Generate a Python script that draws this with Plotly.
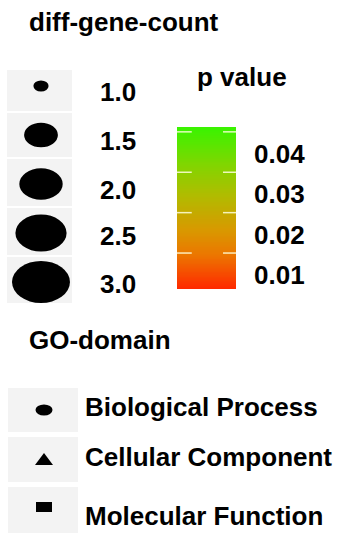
import numpy as np
import plotly.graph_objects as go

# ---- legend content ----
count_levels = [1.0, 1.5, 2.0, 2.5, 3.0]
count_labels = ["1.0", "1.5", "2.0", "2.5", "3.0"]

p_ticks = [0.04, 0.03, 0.02, 0.01]
p_tick_labels = ["0.04", "0.03", "0.02", "0.01"]
p_min, p_max = 0.0011, 0.0412

go_domains = ["Biological Process", "Cellular Component", "Molecular Function"]
go_symbols = ["circle", "triangle", "square"]

W, H = 340, 533
FONT = dict(family="Liberation Sans, Arial, sans-serif", size=26, color="black", weight="bold")
KEY_BG = "#f3f3f3"

# red -> green gradient used for the p value colourbar
p_colorscale = [
    [0.00, "#ff2800"],
    [0.21, "#ec7600"],
    [0.36, "#d99800"],
    [0.58, "#b0bc00"],
    [0.77, "#80d600"],
    [1.00, "#38f400"],
]


def size_scale(v, vmin=min(count_levels), vmax=max(count_levels), dmin=11.0, dmax=42.0):
    """Point height in px for a diff-gene-count value (power-rescaled)."""
    t = ((v - vmin) / (vmax - vmin)) ** 0.6
    return dmin + (dmax - dmin) * t


ASPECT = 1.38  # keys are drawn wider than tall

fig = go.Figure()
shapes = []
annotations = []

# ---- size legend ----
annotations.append(dict(x=27, y=22, text="diff-gene-count", xref="x", yref="y",
                        xanchor="left", yanchor="middle", showarrow=False, font=FONT))
key_rows = [(70, 111), (113, 157), (159, 206), (208, 255), (257, 303)]
for i, (v, lab) in enumerate(zip(count_levels, count_labels)):
    top, bot = key_rows[i]
    shapes.append(dict(type="rect", xref="x", yref="y", x0=7, x1=72, y0=top, y1=bot,
                       fillcolor=KEY_BG, line=dict(width=0), layer="below"))
    cy = 86 + 49 * i
    h = size_scale(v)
    w = h * ASPECT
    shapes.append(dict(type="circle", xref="x", yref="y", x0=41 - w / 2, x1=41 + w / 2,
                       y0=cy - h / 2, y1=cy + h / 2, fillcolor="black", line=dict(width=0)))
    annotations.append(dict(x=98, y=[92, 141, 190, 236, 284][i], text=lab, xref="x", yref="y",
                            xanchor="left", yanchor="middle", showarrow=False, font=FONT))

# ---- p value colourbar ----
annotations.append(dict(x=195, y=77, text="p value", xref="x", yref="y",
                        xanchor="left", yanchor="middle", showarrow=False, font=FONT))
grad = np.linspace(p_min, p_max, 200)
fig.add_trace(go.Heatmap(z=[[g] for g in grad], x=[0], y=grad, xaxis="x2", yaxis="y2",
                         colorscale=p_colorscale, zmin=p_min, zmax=p_max,
                         showscale=False, hoverinfo="skip"))
for t, lab in zip(p_ticks, p_tick_labels):
    for x0, x1 in [(0.0, 0.25), (0.78, 1.0)]:
        shapes.append(dict(type="line", xref="x2 domain", yref="y2", x0=x0, x1=x1, y0=t, y1=t,
                           line=dict(color="rgba(255,255,220,0.85)", width=1.5)))
    annotations.append(dict(x=252, y=t, text=lab, xref="x", yref="y2", yshift=-22,
                            xanchor="left", yanchor="middle", showarrow=False, font=FONT))

# ---- GO-domain legend ----
annotations.append(dict(x=27, y=340, text="GO-domain", xref="x", yref="y",
                        xanchor="left", yanchor="middle", showarrow=False, font=FONT))
go_rows = [(388, 432), (437, 482), (487, 533)]
go_key_y = [410, 459, 507]
go_label_y = [407, 457, 516]
for i, (name, sym) in enumerate(zip(go_domains, go_symbols)):
    top, bot = go_rows[i]
    shapes.append(dict(type="rect", xref="x", yref="y", x0=8, x1=78, y0=top, y1=bot,
                       fillcolor=KEY_BG, line=dict(width=0), layer="below"))
    cx, cy = 44, go_key_y[i]
    if sym == "circle":
        shapes.append(dict(type="circle", xref="x", yref="y", x0=cx - 8.5, x1=cx + 8.5,
                           y0=cy - 5.5, y1=cy + 5.5, fillcolor="black", line=dict(width=0)))
    elif sym == "triangle":
        shapes.append(dict(type="path", xref="x", yref="y",
                           path=f"M {cx - 9} {cy + 6} L {cx + 9} {cy + 6} L {cx} {cy - 6} Z",
                           fillcolor="black", line=dict(width=0)))
    else:
        shapes.append(dict(type="rect", xref="x", yref="y", x0=cx - 8, x1=cx + 8,
                           y0=cy - 5, y1=cy + 5, fillcolor="black", line=dict(width=0)))
    annotations.append(dict(x=83, y=go_label_y[i], text=name, xref="x", yref="y",
                            xanchor="left", yanchor="middle", showarrow=False, font=FONT))

bar_x0, bar_x1, bar_top, bar_bot = 177, 236, 127, 289
fig.update_layout(
    width=W, height=H,
    margin=dict(l=0, r=0, t=0, b=0),
    paper_bgcolor="white", plot_bgcolor="rgba(0,0,0,0)",
    showlegend=False,
    xaxis=dict(range=[0, W], domain=[0, 1], visible=False, fixedrange=True),
    yaxis=dict(range=[H, 0], domain=[0, 1], visible=False, fixedrange=True),
    xaxis2=dict(range=[-0.5, 0.5], domain=[bar_x0 / W, bar_x1 / W], visible=False,
                anchor="y2", fixedrange=True),
    yaxis2=dict(range=[p_min, p_max], domain=[1 - bar_bot / H, 1 - bar_top / H], visible=False,
                anchor="x2", fixedrange=True),
    shapes=shapes,
    annotations=annotations,
)

fig.write_html("out.html", config={"displayModeBar": False})
